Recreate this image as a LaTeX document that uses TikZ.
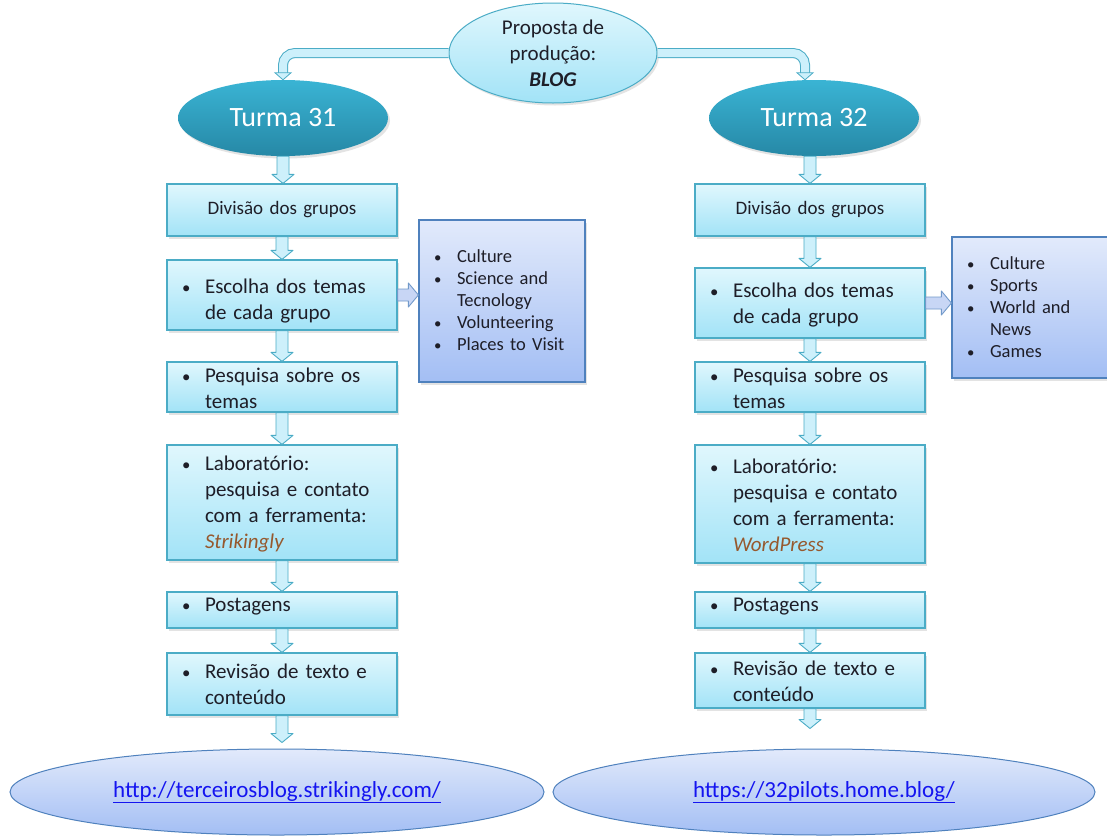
\documentclass[tikz,border=0pt]{standalone}
\usepackage{fontspec}
\setmainfont{Carlito}
\usetikzlibrary{shadows,calc,shapes.geometric}

\definecolor{bxtop}{RGB}{224,247,253}
\definecolor{bxbot}{RGB}{162,227,247}
\definecolor{bxline}{RGB}{75,172,198}
\definecolor{sdtop}{RGB}{226,234,251}
\definecolor{sdbot}{RGB}{163,190,244}
\definecolor{sdline}{RGB}{79,129,189}
\definecolor{tmtop}{RGB}{58,180,212}
\definecolor{tmbot}{RGB}{38,136,166}
\definecolor{arfill}{RGB}{205,240,251}
\definecolor{sarfill}{RGB}{200,214,245}
\definecolor{txt}{RGB}{30,30,40}
\definecolor{tool}{RGB}{150,88,45}
\definecolor{urlc}{RGB}{20,20,240}

\newcommand{\bitem}[1]{\par\hangindent=26pt\hangafter=1\noindent
  \makebox[26pt][l]{\hspace{3pt}\scalebox{0.8}{\textbullet}}{\let\\\newline #1}\par}

% down block arrow: from coordinate #1 to coordinate #2
\newcommand{\darrow}[2]{%
  \path let \p1=(#1), \p2=(#2) in [blockarr]
    (\x1-6pt,\y1) -- (\x1+6pt,\y1) -- (\x1+6pt,\y2+9pt) -- (\x1+11pt,\y2+9pt)
    -- (\x1,\y2) -- (\x1-11pt,\y2+9pt) -- (\x1-6pt,\y2+9pt) -- cycle;}
% right block arrow
\newcommand{\rarrow}[2]{%
  \path let \p1=(#1), \p2=(#2) in [sidearr]
    (\x1,\y1+6pt) -- (\x2-10pt,\y1+6pt) -- (\x2-10pt,\y1+12pt) -- (\x2,\y1)
    -- (\x2-10pt,\y1-12pt) -- (\x2-10pt,\y1-6pt) -- (\x1,\y1-6pt) -- cycle;}
% pipe from #1 to #2 with a small head
\newcommand{\pipe}[2]{%
  \path let \p1=(#1), \p2=(#2) in
    [draw=bxline, line width=1pt, double=arfill, double distance=8pt, rounded corners=12pt]
    (\x1,\y1) -| (\x2,\y2+6pt);
  \path let \p2=(#2) in
    [draw=bxline, line width=0.8pt, fill=arfill]
    (\x2-8pt,\y2+7pt) -- (\x2+8pt,\y2+7pt) -- (\x2,\y2) -- cycle;}

\tikzset{
  shade/.style={drop shadow={opacity=0.22, shadow xshift=2pt, shadow yshift=-2.5pt}},
  textup/.style={execute at begin node={\vspace*{-#1}}},
  box/.style={shade, draw=bxline, line width=1.2pt, top color=bxtop, bottom color=bxbot,
    minimum width=230pt, text width=206pt, inner xsep=12pt, inner ysep=0pt,
    align=left, font=\fontsize{21}{26}\selectfont, text=txt},
  sidebox/.style={shade, draw=sdline, line width=1.2pt, top color=sdtop, bottom color=sdbot,
    inner xsep=12pt, inner ysep=0pt, align=left,
    font=\fontsize{18.5}{22}\selectfont, text=txt, textup=10pt},
  turma/.style={shade, ellipse, top color=tmtop, bottom color=tmbot, draw=none,
    text=white, font=\fontsize{28}{32}\selectfont, minimum width=210pt,
    minimum height=76pt, inner sep=0pt},
  topell/.style={shade, ellipse, draw=bxline, line width=1pt, top color=bxtop, bottom color=bxbot,
    align=center, font=\fontsize{21}{26}\selectfont, text=txt, minimum width=208pt,
    minimum height=100pt, inner sep=0pt},
  urlell/.style={ellipse, draw=sdline, line width=1pt, top color=sdtop, bottom color=sdbot,
    font=\fontsize{23}{28}\selectfont, text=urlc, minimum height=86pt, inner sep=0pt},
  blockarr/.style={draw=bxline, line width=0.9pt, fill=arfill, line join=round},
  sidearr/.style={draw=sdline!80, line width=0.9pt, fill=sarfill, line join=round},
}

\begin{document}
\begin{tikzpicture}[x=1pt,y=-1pt]
\fill[white] (0,0) rectangle (1107,836);
\useasboundingbox (0,0) rectangle (1107,836);

% top node and turma nodes
\node[topell] (top) at (553,53) {Proposta de\\produção:\\\textbf{\textit{BLOG}}};
\node[turma] (t31) at (283,118) {Turma 31};
\node[turma] (t32) at (814,118) {Turma 32};

% left column
\node[box, align=center, minimum height=52pt, font=\fontsize{19}{24}\selectfont] (d1) at (282,210) {Divisão dos grupos};
\node[box, minimum height=70pt] (e1) at (282,295) {\bitem{Escolha dos temas\\de cada grupo}};
\node[box, minimum height=50pt, textup=8pt] (p1) at (282,387) {\bitem{Pesquisa sobre os\\temas}};
\node[box, minimum height=115pt, textup=8pt] (l1) at (282,502.5) {\bitem{Laboratório:\\pesquisa e contato\\com a ferramenta:\\\textit{\color{tool}Strikingly}}};
\node[box, minimum height=36pt, textup=20pt] (o1) at (282,610) {\bitem{Postagens}};
\node[box, minimum height=62pt, textup=10pt] (r1) at (282,684) {\bitem{Revisão de texto e\\conteúdo}};
\node[sidebox, minimum width=166pt, minimum height=162pt, text width=142pt] (s1) at (502,301)
  {\bitem{Culture}\bitem{Science and\\Tecnology}\bitem{Volunteering}\bitem{Places to Visit}};

% right column
\node[box, align=center, minimum height=52pt, font=\fontsize{19}{24}\selectfont] (d2) at (810,210) {Divisão dos grupos};
\node[box, minimum height=70pt, textup=8pt] (e2) at (810,303) {\bitem{Escolha dos temas\\de cada grupo}};
\node[box, minimum height=50pt, textup=8pt] (p2) at (810,387) {\bitem{Pesquisa sobre os\\temas}};
\node[box, minimum height=118pt, textup=8pt] (l2) at (810,504) {\bitem{Laboratório:\\pesquisa e contato\\com a ferramenta:\\\textit{\color{tool}WordPress}}};
\node[box, minimum height=36pt, textup=20pt] (o2) at (810,610) {\bitem{Postagens}};
\node[box, minimum height=55pt, textup=10pt] (r2) at (810,680.5) {\bitem{Revisão de texto e\\conteúdo}};
\node[sidebox, minimum width=160pt, minimum height=141pt, text width=136pt] (s2) at (1032,307.5)
  {\bitem{Culture}\bitem{Sports}\bitem{World and\\News}\bitem{Games}};

% bottom ellipses
\node[urlell, minimum width=534pt] (b1) at (277,792) {\underline{http://terceirosblog.strikingly.com/}};
\node[urlell, minimum width=542pt] (b2) at (824,792) {\underline{https://32pilots.home.blog/}};

% pipes
\pipe{top.west}{t31.north}
\pipe{top.east}{$(t32.north)+(-9,0)$}

% arrows left
\darrow{t31.south}{d1.north}
\darrow{d1.south}{e1.north}
\darrow{e1.south}{p1.north}
\darrow{p1.south}{l1.north}
\darrow{l1.south}{o1.north}
\darrow{o1.south}{r1.north}
\darrow{r1.south}{$(b1.north)+(6,-6)$}
\rarrow{e1.east}{s1.west}

% arrows right
\darrow{$(t32.south)+(-4,0)$}{d2.north}
\darrow{d2.south}{e2.north}
\darrow{e2.south}{p2.north}
\darrow{p2.south}{l2.north}
\darrow{l2.south}{o2.north}
\darrow{o2.south}{r2.north}
\darrow{r2.south}{$(b2.north)+(-10,-20)$}
\rarrow{e2.east}{s2.west}
\end{tikzpicture}
\end{document}
